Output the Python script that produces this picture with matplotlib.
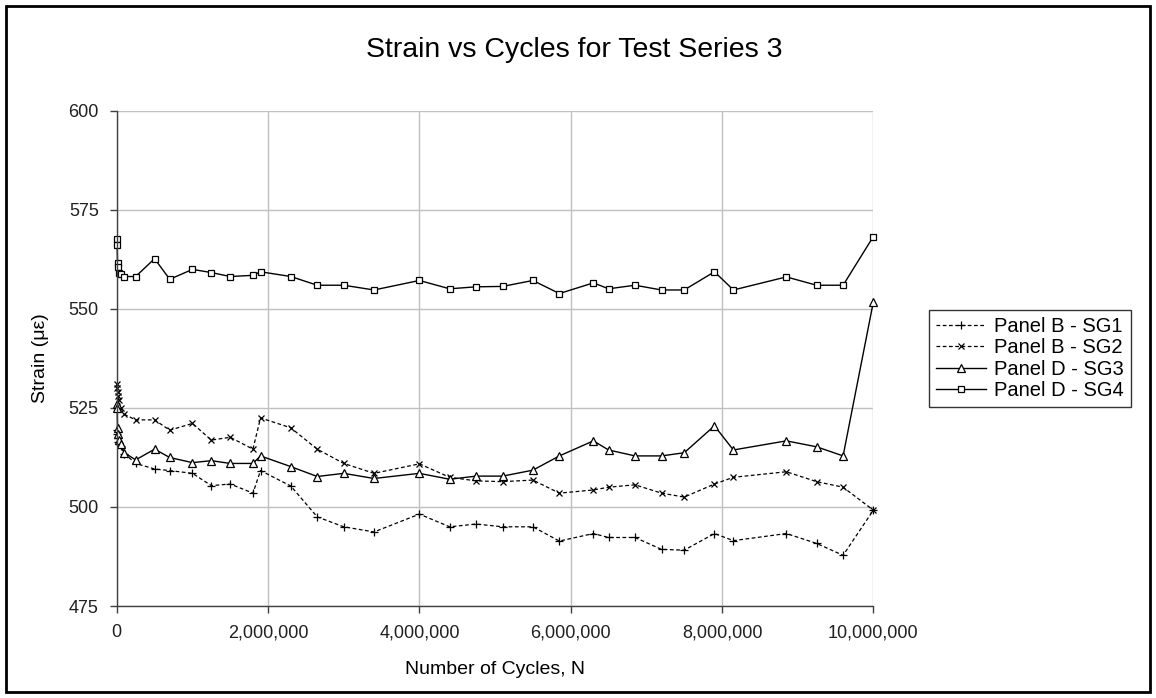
import matplotlib
matplotlib.use('Agg')
import matplotlib.pyplot as plt
from matplotlib.ticker import FuncFormatter, MultipleLocator
from matplotlib.patches import Rectangle

plt.rcParams['font.family'] = ['Liberation Sans', 'DejaVu Sans']

# cycle counts (shared by all four gauges)
cycles = [0, 5000, 10000, 20000, 30000, 50000,
          100000, 250000, 500000, 700000, 1000000, 1250000, 1500000, 1800000,
          1900000, 2300000, 2650000, 3000000, 3400000, 4000000, 4400000, 4750000,
          5100000, 5500000, 5850000, 6300000, 6500000, 6850000, 7200000, 7500000,
          7900000, 8150000, 8850000, 9250000, 9600000, 10000000]

sg1 = [519.5, 518.5, 517.5, 516.5, 516.0, 515.5,
       513.5, 511.0, 509.6, 509.2, 508.5, 505.4, 505.8, 503.5,
       509.2, 505.3, 497.5, 495.0, 493.7, 498.2, 495.0, 495.7,
       495.0, 495.0, 491.4, 493.3, 492.3, 492.3, 489.3, 489.1,
       493.3, 491.5, 493.3, 490.8, 487.8, 499.2]

sg2 = [531.0, 530.0, 529.0, 528.0, 527.0, 525.0,
       523.4, 522.0, 522.0, 519.4, 521.1, 516.9, 517.6, 514.6,
       522.5, 520.0, 514.6, 511.0, 508.5, 510.9, 507.5, 506.6,
       506.4, 506.8, 503.5, 504.3, 505.0, 505.6, 503.5, 502.5,
       505.8, 507.5, 508.9, 506.4, 505.0, 499.2]

sg3 = [526.0, 525.0, 520.0, 518.5, 517.0, 516.0,
       513.7, 511.9, 514.6, 512.5, 511.2, 511.7, 511.0, 511.0,
       512.9, 510.2, 507.7, 508.5, 507.2, 508.5, 507.0, 507.8,
       507.8, 509.3, 512.9, 516.7, 514.4, 512.9, 512.9, 513.7,
       520.5, 514.4, 516.7, 515.2, 512.9, 551.8]

sg4 = [567.6, 566.2, 561.5, 560.7, 559.2, 558.8,
       558.2, 558.2, 562.7, 557.5, 560.0, 559.2, 558.2, 558.5,
       559.4, 558.2, 556.0, 556.0, 554.8, 557.2, 555.1, 555.6,
       555.7, 557.2, 553.9, 556.6, 555.1, 556.0, 554.8, 554.8,
       559.4, 554.8, 558.1, 556.0, 556.0, 568.3]

labels = ['Panel B - SG1', 'Panel B - SG2', 'Panel D - SG3', 'Panel D - SG4']

fig = plt.figure(figsize=(11.56, 6.98), dpi=100)
ax = fig.add_axes([0.101, 0.1318, 0.6545, 0.7092])

dash = (0, (3, 2))
ax.plot(cycles, sg1, color='black', lw=0.9, ls=dash, marker='+', ms=6, mew=0.9,
        clip_on=False, label=labels[0])
ax.plot(cycles, sg2, color='black', lw=0.9, ls=dash, marker='x', ms=4.5, mew=0.9,
        clip_on=False, label=labels[1])
ax.plot(cycles, sg3, color='black', lw=1.0, ls='-', marker='^', ms=5.5, mew=0.9,
        mfc='white', clip_on=False, label=labels[2])
ax.plot(cycles, sg4, color='black', lw=1.0, ls='-', marker='s', ms=5, mew=0.9,
        mfc='white', clip_on=False, label=labels[3])

ax.set_xlim(0, 10000000)
ax.set_ylim(475, 600)
ax.xaxis.set_major_locator(MultipleLocator(2000000))
ax.yaxis.set_major_locator(MultipleLocator(25))
ax.xaxis.set_major_formatter(FuncFormatter(lambda v, p: '{:,.0f}'.format(v)))
ax.grid(True, color='#c0c0c0', lw=1.0)
ax.set_axisbelow(True)
for s in ['top', 'right']:
    ax.spines[s].set_visible(False)
for s in ['left', 'bottom']:
    ax.spines[s].set_color('#404040')
    ax.spines[s].set_linewidth(1.0)
ax.tick_params(direction='out', length=5, width=1, color='#404040',
               labelsize=13, labelcolor='#202020', pad=8)

fig.suptitle('Strain vs Cycles for Test Series 3', fontsize=20.5, x=0.497, y=0.928,
             va='center')
ax.set_xlabel('Number of Cycles, N', fontsize=14, labelpad=14)
ax.set_ylabel('Strain (\u03bc\u03b5)', fontsize=14, labelpad=14)

leg = ax.legend(loc='upper left', bbox_to_anchor=(0.8036, 0.5559),
                bbox_transform=fig.transFigure, fontsize=14.5,
                frameon=True, fancybox=False, edgecolor='black', handlelength=2.5,
                handletextpad=0.4, borderpad=0.35, labelspacing=0.12,
                borderaxespad=0)
leg.get_frame().set_linewidth(1.0)

# outer chart border
fig.patches.append(Rectangle((0.005, 0.008), 0.99, 0.984, transform=fig.transFigure,
                             fill=False, edgecolor='black', lw=2))

plt.savefig('out.png', dpi=100)
